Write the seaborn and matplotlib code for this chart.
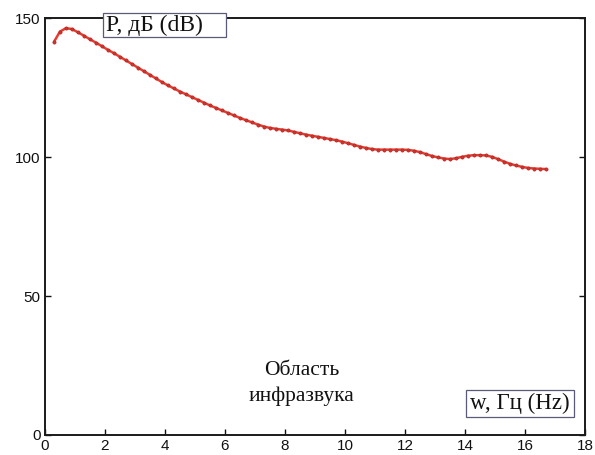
import numpy as np
import pandas as pd
import matplotlib
matplotlib.use("Agg")
import matplotlib.pyplot as plt
from matplotlib.patches import Rectangle
import seaborn as sns

# Sound pressure level of the infrasound spectrum
freq_hz = [
    0.3, 0.5, 0.7, 0.9, 1.1, 1.3, 1.5, 1.7, 1.9, 2.1,
    2.3, 2.5, 2.7, 2.9, 3.1, 3.3, 3.5, 3.7, 3.9, 4.1,
    4.3, 4.5, 4.7, 4.9, 5.1, 5.3, 5.5, 5.7, 5.9, 6.1,
    6.3, 6.5, 6.7, 6.9, 7.1, 7.3, 7.5, 7.7, 7.9, 8.1,
    8.3, 8.5, 8.7, 8.9, 9.1, 9.3, 9.5, 9.7, 9.9, 10.1,
    10.3, 10.5, 10.7, 10.9, 11.1, 11.3, 11.5, 11.7, 11.9, 12.1,
    12.3, 12.5, 12.7, 12.9, 13.1, 13.3, 13.5, 13.7, 13.9, 14.1,
    14.3, 14.5, 14.7, 14.9, 15.1, 15.3, 15.5, 15.7, 15.9, 16.1,
    16.3, 16.5, 16.7,
]
level_db = [
    141.5, 145.2, 146.4, 146.1, 144.9, 143.7, 142.4, 141.2, 139.9, 138.6,
    137.4, 136.1, 134.8, 133.5, 132.2, 130.9, 129.6, 128.3, 127.0, 125.8,
    124.7, 123.6, 122.6, 121.6, 120.6, 119.6, 118.6, 117.7, 116.8, 115.9,
    115.0, 114.1, 113.3, 112.5, 111.7, 111.0, 110.5, 110.2, 109.9, 109.6,
    109.1, 108.6, 108.1, 107.7, 107.3, 106.9, 106.5, 106.1, 105.6, 105.0,
    104.4, 103.8, 103.3, 102.9, 102.7, 102.7, 102.7, 102.7, 102.7, 102.6,
    102.3, 101.8, 101.1, 100.4, 99.9, 99.5, 99.3, 99.6, 100.1, 100.5,
    100.7, 100.7, 100.6, 100.1, 99.3, 98.4, 97.6, 97.0, 96.5, 96.1,
    95.9, 95.8, 95.7,
]

x_ticks = [0, 2, 4, 6, 8, 10, 12, 14, 16, 18]
y_ticks = [0, 50, 100, 150]

y_label = "P, дБ (dB)"
x_label = "w, Гц (Hz)"
region_label = "Область\nинфразвука"

sns.set_style("ticks")
plt.rcParams["font.family"] = ["Liberation Sans", "DejaVu Sans"]
serif = ["Liberation Serif", "DejaVu Serif"]

df = pd.DataFrame({"freq": freq_hz, "level": level_db})

fig = plt.figure(figsize=(5.95, 4.55), dpi=100)
ax = fig.add_axes([0.0756, 0.044, 0.9076, 0.916])

sns.lineplot(
    data=df, x="freq", y="level", ax=ax,
    color="#ec3b2e", linewidth=1.8,
    marker="o", markersize=2.3,
    markerfacecolor="#d8342a", markeredgecolor="#9a3030", markeredgewidth=0.5,
)

ax.set_xlim(0, 18)
ax.set_ylim(0, 150)
ax.set_xticks(x_ticks)
ax.set_yticks(y_ticks)
ax.set_xlabel("")
ax.set_ylabel("")
ax.tick_params(axis="both", direction="in", length=4, width=1.0,
               labelsize=11, colors="#111111")
ax.tick_params(axis="x", pad=3)
ax.tick_params(axis="y", pad=3, right=True)
for side in ["left", "right", "top", "bottom"]:
    ax.spines[side].set_visible(True)
    ax.spines[side].set_linewidth(1.4)
    ax.spines[side].set_color("#1a1a1a")

box_color = "#5a5a78"

# label box for the level axis, sitting over the top frame
ax.add_patch(Rectangle((1.93, 143.2), 4.10, 8.6, facecolor="white",
                       edgecolor=box_color, linewidth=0.9,
                       clip_on=False, zorder=5))
ax.text(2.03, 147.3, y_label, family=serif, fontsize=17,
        ha="left", va="center", zorder=6, color="#111111")

# label box for the frequency axis
ax.add_patch(Rectangle((14.03, 6.5), 3.60, 9.7, facecolor="white",
                       edgecolor=box_color, linewidth=0.9,
                       clip_on=False, zorder=5))
ax.text(15.83, 11.2, x_label, family=serif, fontsize=16.5,
        ha="center", va="center", zorder=6, color="#111111")

ax.text(8.55, 18.6, region_label, family=serif, fontsize=15.5,
        ha="center", va="center", linespacing=1.45, color="#111111")

fig.savefig("out.png", dpi=100)
